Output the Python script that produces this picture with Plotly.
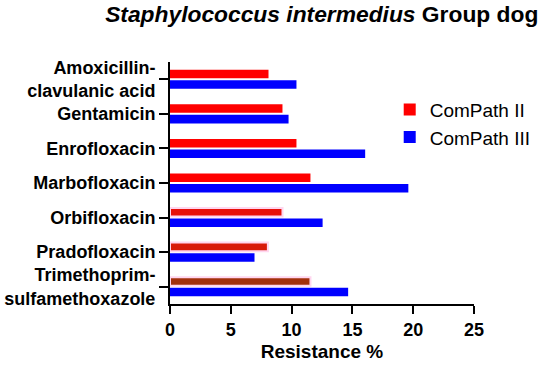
import plotly.graph_objects as go

categories = ["Amoxicillin-<br>clavulanic acid", "Gentamicin", "Enrofloxacin", "Marbofloxacin",
              "Orbifloxacin", "Pradofloxacin", "Trimethoprim-<br>sulfamethoxazole"]
compath2 = [8.1, 9.25, 10.4, 11.55, 9.25, 8.05, 11.55]
compath3 = [10.4, 9.75, 16.05, 19.6, 12.55, 6.95, 14.65]
x_ticks = [0, 5, 10, 15, 20, 25]

red_colors = ["#ff0000"] * 4 + ["#e8100a", "#d81a0a", "#a3300c"]
outline_colors = ["rgba(0,0,0,0)"] * 4 + ["#ffd6ef"] * 3
outline_widths = [0] * 4 + [2] * 3

FONT = "Arial, Liberation Sans, sans-serif"

fig = go.Figure()
fig.add_trace(go.Bar(
    name="ComPath II", y=categories, x=compath2, orientation="h",
    marker=dict(color=red_colors, line=dict(color=outline_colors, width=outline_widths)),
))
fig.add_trace(go.Bar(
    name="ComPath III", y=categories, x=compath3, orientation="h",
    marker=dict(color="#0000ff", line=dict(width=0)),
))

fig.update_layout(
    width=550, height=368,
    margin=dict(l=170, r=76, t=62, b=64),
    paper_bgcolor="white", plot_bgcolor="white",
    barmode="group", bargap=0.39, bargroupgap=0.19,
    font=dict(family=FONT, color="black"),
    title=dict(text="<b><i>Staphylococcus intermedius</i> Group dog</b>",
               x=0.585, xanchor="center", xref="container",
               y=0.962, yanchor="middle", yref="container",
               font=dict(size=22.8, family=FONT, color="black")),
    legend=dict(x=1.203, y=0.882, xanchor="right", yanchor="top",
                font=dict(size=19, family=FONT, color="black"),
                bgcolor="rgba(0,0,0,0)", tracegroupgap=6),
    showlegend=True,
)
fig.update_xaxes(
    range=[0, 25], tickvals=x_ticks, ticktext=[str(v) for v in x_ticks],
    showgrid=False, zeroline=False, showline=True, linecolor="black", linewidth=2,
    ticks="outside", ticklen=8, tickwidth=2, tickcolor="black", automargin=False,
    tickfont=dict(size=18, family=FONT, color="black", weight="bold"),
    title=dict(text="<b>Resistance %</b>", font=dict(size=19, family=FONT, color="black"), standoff=6),
)
fig.update_yaxes(
    autorange="reversed", automargin=False,
    showgrid=False, zeroline=False, showline=True, linecolor="black", linewidth=2,
    ticks="outside", ticklen=9, tickwidth=2, tickcolor="black",
    tickfont=dict(size=18, family=FONT, color="black", weight="bold"),
)

# remove the browser's default 8px body margin so the figure fills the window exactly
fig.write_html("out.html", config={"displayModeBar": False},
               post_script="document.body.style.margin='0px';")
